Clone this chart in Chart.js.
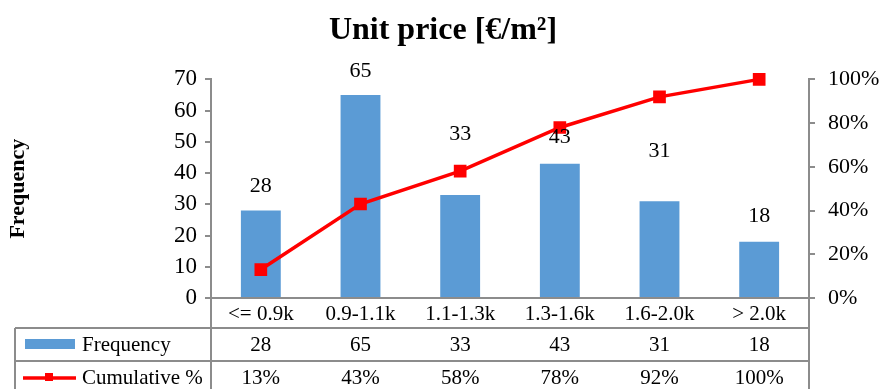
<!DOCTYPE html>
<html>
<head>
<meta charset="utf-8">
<script src="https://cdn.jsdelivr.net/npm/chart.js@4/dist/chart.umd.min.js"></script>
<style>
  html, body { margin: 0; padding: 0; background: #fff; }
  #wrap { width: 886px; height: 389px; }
</style>
</head>
<body>
<div id="wrap"><canvas id="paretoChart" width="886" height="389"></canvas></div>
<script>
// chart data
const categories = ['<= 0.9k', '0.9-1.1k', '1.1-1.3k', '1.3-1.6k', '1.6-2.0k', '> 2.0k'];
const frequency = [28, 65, 33, 43, 31, 18];
const cumulative = [0.13, 0.43, 0.58, 0.78, 0.92, 1.00];
const freqTicks = [0, 10, 20, 30, 40, 50, 60, 70];
const pctTicks = [0, 0.2, 0.4, 0.6, 0.8, 1.0];

const serif = "'Liberation Serif', 'Times New Roman', serif";
const axisGray = '#8c8c8c';

// bar labels, category row and the data table under the x axis
const tablePlugin = {
    id: 'tablePlugin',
    afterDatasetsDraw(chart, args, opts) {
        const ctx = chart.ctx;
        const x = chart.scales.x;
        const area = chart.chartArea;
        const barMeta = chart.getDatasetMeta(1);

        ctx.save();
        ctx.fillStyle = '#000';
        ctx.font = '22px ' + serif;
        ctx.textAlign = 'center';
        ctx.textBaseline = 'middle';
        barMeta.data.forEach((bar, i) => {
            ctx.fillText(String(frequency[i]), bar.x, bar.y - opts.labelLift[i]);
        });

        const left = 15;
        const right = area.right;
        const row1 = area.bottom + 30;
        const row2 = row1 + 33;
        const bottom = chart.height;

        ctx.strokeStyle = axisGray;
        ctx.lineWidth = 2;
        ctx.beginPath();
        ctx.moveTo(left, row1); ctx.lineTo(right, row1);
        ctx.moveTo(left, row2); ctx.lineTo(right, row2);
        ctx.moveTo(left, row1); ctx.lineTo(left, bottom);
        ctx.moveTo(area.left, area.bottom); ctx.lineTo(area.left, bottom);
        ctx.moveTo(right, area.bottom); ctx.lineTo(right, bottom);
        ctx.stroke();

        // legend keys
        ctx.fillStyle = '#5B9BD5';
        ctx.fillRect(25, row1 + 11, 50, 10);
        ctx.strokeStyle = '#FF0000';
        ctx.lineWidth = 3.5;
        ctx.beginPath();
        ctx.moveTo(23, row2 + 17); ctx.lineTo(76, row2 + 17);
        ctx.stroke();
        ctx.fillStyle = '#FF0000';
        ctx.fillRect(45, row2 + 12, 8, 8);

        ctx.fillStyle = '#000';
        ctx.font = '21px ' + serif;
        ctx.textAlign = 'left';
        ctx.fillText('Frequency', 82, row1 + 17);
        ctx.fillText('Cumulative %', 82, row2 + 17);

        ctx.textAlign = 'center';
        categories.forEach((c, i) => {
            const cx = x.getPixelForValue(i);
            ctx.fillText(c, cx, area.bottom + 16);
            ctx.fillText(String(frequency[i]), cx, row1 + 17);
            ctx.fillText(Math.round(cumulative[i] * 100) + '%', cx, row2 + 17);
        });
        ctx.restore();
    }
};

const ctx = document.getElementById('paretoChart').getContext('2d');
const paretoChart = new Chart(ctx, {
    type: 'bar',
    data: {
        labels: categories,
        datasets: [{
            type: 'line',
            label: 'Cumulative %',
            data: cumulative,
            yAxisID: 'y1',
            borderColor: '#FF0000',
            backgroundColor: '#FF0000',
            borderWidth: 3.5,
            pointStyle: 'rect',
            pointRadius: 6.5,
            pointHoverRadius: 6.5,
            tension: 0,
            clip: false,
            order: 0
        }, {
            label: 'Frequency',
            data: frequency,
            yAxisID: 'y',
            backgroundColor: '#5B9BD5',
            barPercentage: 0.4,
            categoryPercentage: 1.0,
            order: 1
        }]
    },
    options: {
        responsive: false,
        animation: false,
        devicePixelRatio: 1,
        layout: { padding: { left: 0, right: 0, top: 0, bottom: 61 } },
        plugins: {
            legend: { display: false },
            tooltip: { enabled: false },
            title: {
                display: true,
                text: 'Unit price [€/m²]',
                color: '#000',
                font: { family: serif, size: 32, weight: 'bold' },
                padding: { top: 12, bottom: 29 }
            },
            tablePlugin: { labelLift: [24, 24, 61, 26, 50, 26] }
        },
        scales: {
            x: {
                grid: { display: false },
                border: { color: axisGray, width: 2 },
                ticks: { display: false },
                afterFit: s => { s.height = 30; }
            },
            y: {
                position: 'left',
                min: 0, max: 70,
                afterBuildTicks: s => { s.ticks = freqTicks.map(v => ({ value: v })); },
                grid: { drawOnChartArea: false, color: axisGray, tickLength: 6, lineWidth: 2 },
                border: { color: axisGray, width: 2 },
                ticks: { color: '#000', font: { family: serif, size: 23 }, padding: 8 },
                title: {
                    display: true,
                    text: 'Frequency',
                    color: '#000',
                    font: { family: serif, size: 22, weight: 'bold' },
                    padding: { top: 5, bottom: 0 }
                },
                afterFit: s => { s.width = 211; }
            },
            y1: {
                position: 'right',
                min: 0, max: 1,
                afterBuildTicks: s => { s.ticks = pctTicks.map(v => ({ value: v })); },
                grid: { drawOnChartArea: false, color: axisGray, tickLength: 6, lineWidth: 2 },
                border: { color: axisGray, width: 2 },
                ticks: {
                    color: '#000',
                    font: { family: serif, size: 22 },
                    padding: 13,
                    callback: v => Math.round(v * 100) + '%'
                },
                afterFit: s => { s.width = 77; }
            }
        }
    },
    plugins: [tablePlugin]
});
</script>
</body>
</html>
